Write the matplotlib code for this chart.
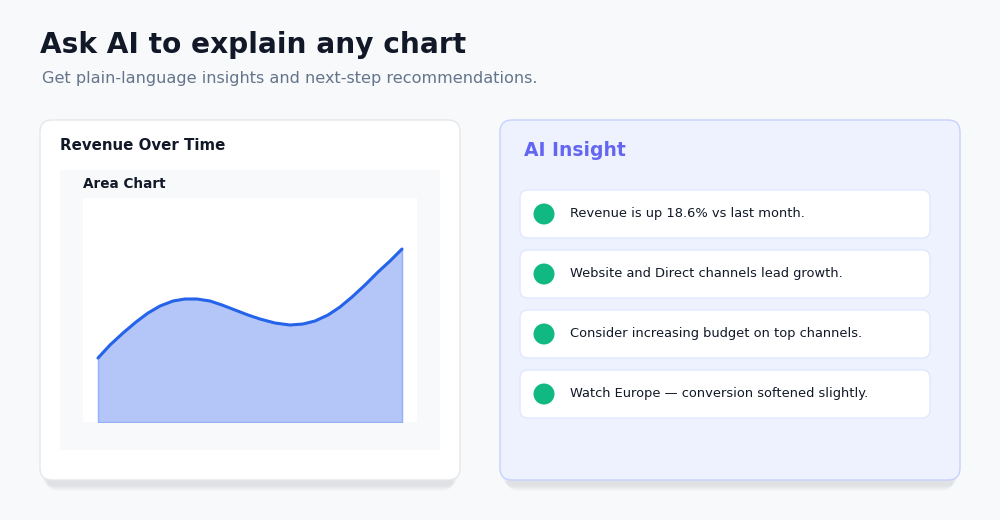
import matplotlib
matplotlib.use("Agg")
import matplotlib.pyplot as plt
from matplotlib.patches import FancyBboxPatch, Circle, Rectangle

title = "Ask AI to explain any chart"
subtitle = "Get plain-language insights and next-step recommendations."
insights = ["Revenue is up 18.6% vs last month.",
            "Website and Direct channels lead growth.",
            "Consider increasing budget on top channels.",
            "Watch Europe \u2014 conversion softened slightly."]
curve_x = [0, 12, 25, 38, 50, 62, 75, 87, 99, 112, 124, 137, 150, 162, 177, 192, 205, 217, 230, 242, 254, 267, 280, 292, 304]
curve_y = [64, 77, 89, 100, 109, 116, 121, 123, 123, 121, 117, 112, 107, 103, 99, 97, 98, 101, 107, 115, 125, 137, 150, 161, 173]

plt.rcParams['font.family'] = ['DejaVu Sans']
fig = plt.figure(figsize=(10, 5.2), dpi=100)
fig.patch.set_facecolor('#f8f9fb')
ov = fig.add_axes([0, 0, 1, 1])
ov.set_xlim(0, 1000); ov.set_ylim(520, 0); ov.axis('off')

def card(x, y, w, h, fc, ec, r=12, shadow=True, z=1):
    if shadow:
        for i in range(6):
            ov.add_patch(FancyBboxPatch((x + 2 + i, y + 6 + i), w - 4 - 2 * i, h, boxstyle=f"round,pad=0,rounding_size={r}",
                                        fc='#0f172a', ec='none', alpha=0.015, zorder=z - 0.5))
    ov.add_patch(FancyBboxPatch((x, y), w, h, boxstyle=f"round,pad=0,rounding_size={r}",
                                fc=fc, ec=ec, lw=1, zorder=z))

ov.text(40, 45, title, fontsize=20.2, fontweight='bold', color='#111827', va='center')
ov.text(42, 79, subtitle, fontsize=11.6, color='#64748b', va='center')

card(40, 120, 420, 360, 'white', '#e5e7eb')
ov.text(60, 145, "Revenue Over Time", fontsize=10.8, fontweight='bold', color='#111827', va='center', zorder=3)
ov.add_patch(Rectangle((60, 170), 380, 280, fc='#f8f9fb', ec='none', zorder=2))
ov.text(83, 184, "Area Chart", fontsize=9.8, fontweight='bold', color='#111827', va='center', zorder=3)

card(500, 120, 460, 360, '#eef2ff', '#c7d2fe')
ov.text(524, 151, "AI Insight", fontsize=13.5, fontweight='bold', color='#6366f1', va='center', zorder=3)
for i, s in enumerate(insights):
    y0 = 190 + i * 60
    card(520, y0, 410, 48, 'white', '#e0e7ff', r=8, shadow=False, z=3)
    ov.add_patch(Circle((544, y0 + 24), 10.5, fc='#10b981', ec='none', zorder=4))
    ov.text(570, y0 + 23, s, fontsize=9.4, color='#111827', va='center', zorder=4)

ax = fig.add_axes([83 / 1000, 1 - 422 / 520, 334 / 1000, 224 / 520])
ax.set_facecolor('white')
ax.set_xlim(-15, 319); ax.set_ylim(0, 224)
ax.fill_between(curve_x, 0, curve_y, color='#b4c6f7', ec='#93b0f5', lw=1)
ax.plot(curve_x, curve_y, color='#2563eb', lw=2.2, solid_capstyle='round', solid_joinstyle='round')
ax.axis('off')
ax.add_patch(Rectangle((-15, 0), 334, 224, fc='white', ec='none', zorder=-1))

fig.savefig('out.png', dpi=100, facecolor=fig.get_facecolor())
